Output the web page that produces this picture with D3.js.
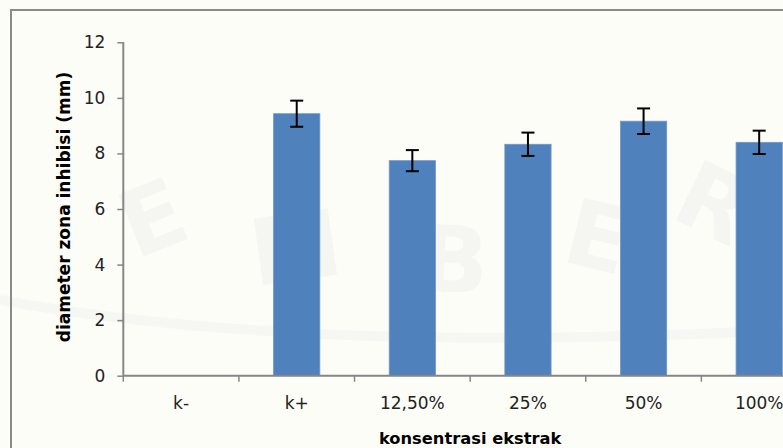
<!DOCTYPE html>
<html>
<head>
<meta charset="utf-8">
<script src="https://cdn.jsdelivr.net/npm/d3@7"></script>
<style>
  html, body { margin: 0; padding: 0; background: #fdfdf8; }
  svg { display: block; }
</style>
</head>
<body>
<div id="chart"></div>
<script>
// Inhibition zone diameter per extract concentration
const categories = ["k-", "k+", "12,50%", "25%", "50%", "100%"];
const means      = [0, 9.43, 7.74, 8.33, 9.16, 8.40];
const errors     = [0, 0.47, 0.38, 0.42, 0.46, 0.42];
const yTicks     = [0, 2, 4, 6, 8, 10, 12];

const W = 783, H = 448;
const svg = d3.select("#chart").append("svg")
  .attr("width", W).attr("height", H)
  .style("font-family", "'DejaVu Sans', sans-serif");

svg.append("rect").attr("width", W).attr("height", H).attr("fill", "#fdfdf8");

// faint background emblem lettering
const wm = svg.append("g").attr("fill", "#f5f5f2").style("font-weight", "bold").style("font-size", "92px")
  .attr("text-anchor", "middle");
[["E", 165, 248, -22], ["M", 300, 280, -8], ["B", 452, 292, 3], ["E", 590, 268, 14], ["R", 700, 232, 26]]
  .forEach(([t, x, y, r]) => wm.append("text").attr("transform", `translate(${x},${y}) rotate(${r})`).text(t));
svg.append("path")
  .attr("d", "M0,300 Q300,355 783,330")
  .attr("fill", "none").attr("stroke", "#f6f6f3").attr("stroke-width", 10);

// outer chart frame (extends past the right and bottom edges)
svg.append("rect")
  .attr("x", 11).attr("y", 10).attr("width", 900).attr("height", 600)
  .attr("fill", "none").attr("stroke", "#8a8a8a").attr("stroke-width", 2);

const x0 = 123.3, x1 = 817, yTop = 42.3, yBot = 375.7;
const x = d3.scaleBand().domain(categories).range([x0, x1]).padding(0);
const y = d3.scaleLinear().domain([0, 12]).range([yBot, yTop]);
const barW = x.bandwidth() / 2.5;

// bars
svg.append("g").selectAll("rect")
  .data(categories.map((c, i) => ({ c, v: means[i], e: errors[i] })))
  .join("rect")
  .attr("x", d => x(d.c) + (x.bandwidth() - barW) / 2)
  .attr("y", d => y(d.v))
  .attr("width", barW)
  .attr("height", d => y(0) - y(d.v))
  .attr("fill", "#4f81bd")
  .attr("stroke", "#6f97c9").attr("stroke-width", 0.8);

// error bars
const eb = svg.append("g").attr("stroke", "#000").attr("stroke-width", 2);
categories.forEach((c, i) => {
  if (errors[i] <= 0) return;
  const cx = x(c) + x.bandwidth() / 2;
  const t = y(means[i] + errors[i]), b = y(means[i] - errors[i]);
  eb.append("line").attr("x1", cx).attr("x2", cx).attr("y1", t).attr("y2", b);
  eb.append("line").attr("x1", cx - 6.5).attr("x2", cx + 6.5).attr("y1", t).attr("y2", t);
  eb.append("line").attr("x1", cx - 6.5).attr("x2", cx + 6.5).attr("y1", b).attr("y2", b);
});

// y axis
const yAxis = svg.append("g").attr("transform", `translate(${x0},0)`)
  .call(d3.axisLeft(y).tickValues(yTicks).tickSize(6).tickPadding(12).tickFormat(d3.format("d")));
yAxis.select(".domain").attr("stroke", "#868686").attr("stroke-width", 2).attr("d", `M0,${yTop}V${yBot}`);
yAxis.selectAll(".tick line").attr("stroke", "#868686").attr("stroke-width", 1.5);
yAxis.selectAll(".tick text").attr("fill", "#222").style("font-size", "17px")
  .style("font-family", "'DejaVu Sans', sans-serif");

// x axis: ticks on category boundaries
const xAxisG = svg.append("g").attr("transform", `translate(0,${yBot})`);
xAxisG.append("line").attr("x1", x0).attr("x2", W).attr("y1", 0).attr("y2", 0)
  .attr("stroke", "#868686").attr("stroke-width", 2);
categories.forEach(c => {
  xAxisG.append("line").attr("x1", x(c)).attr("x2", x(c)).attr("y1", 0).attr("y2", 6)
    .attr("stroke", "#868686").attr("stroke-width", 1.5);
});
xAxisG.selectAll("text.cat").data(categories).join("text")
  .attr("class", "cat")
  .attr("x", d => x(d) + x.bandwidth() / 2)
  .attr("y", 33.5)
  .attr("text-anchor", "middle")
  .attr("fill", "#222")
  .style("font-size", "17px")
  .text(d => d);

// axis titles
svg.append("text")
  .attr("x", (x0 + x1) / 2).attr("y", 443.5)
  .attr("text-anchor", "middle")
  .style("font-size", "16.3px").style("font-weight", "bold").attr("fill", "#000")
  .text("konsentrasi ekstrak");

svg.append("text")
  .attr("transform", `translate(70,${(yTop + yBot) / 2 - 2}) rotate(-90)`)
  .attr("text-anchor", "middle")
  .style("font-size", "17px").style("font-weight", "bold").attr("fill", "#000")
  .text("diameter zona inhibisi (mm)");
</script>
</body>
</html>
